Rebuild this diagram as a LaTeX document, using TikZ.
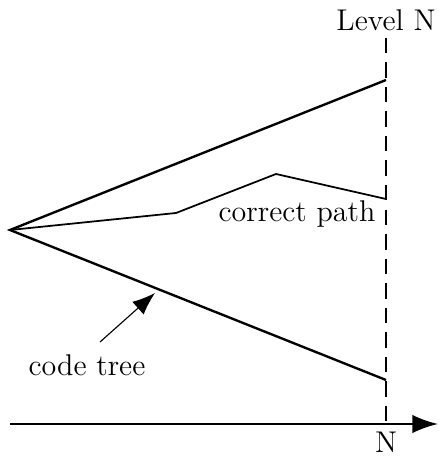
\documentclass[tikz,border=0pt]{standalone}
\usetikzlibrary{arrows.meta}
\tikzset{
  >={Latex[length=3.6mm,width=2.6mm]},
  branch/.style ={line width=0.95pt},
  route/.style  ={line width=0.7pt},
  level/.style  ={line width=0.8pt, dash pattern=on 6.2pt off 3.6pt},
  axis/.style   ={->, line width=0.95pt},
  pointer/.style={->, line width=0.45pt, >={Latex[length=3.2mm,width=2.4mm]}},
  lbl/.style    ={font=\large, inner sep=1pt},
}

\begin{document}
\begin{tikzpicture}[x=0.4pt, y=-0.4pt]
  \useasboundingbox (0,0) rectangle (438,457);
  % tree and level
  \coordinate (root) at (10,230);
  \coordinate (top)  at (386,80);
  \coordinate (bot)  at (386,380);
  \coordinate (p1)   at (176,213);
  \coordinate (p2)   at (276,174);
  \coordinate (pend) at (386,199);
  \coordinate (lvtop) at (386,38);
  \coordinate (lvbot) at (386,424);
  \coordinate (ax0) at (10,424);
  \coordinate (ax1) at (438,424);
  \draw[branch] (top) -- (root) -- (bot);
  \draw[route] (root) -- (p1) -- (p2) -- (pend);
  \draw[level] (lvtop) -- (lvbot);
  \draw[axis] (ax0) -- (ax1);
  % labels
  \node[lbl] (lvl)  at (386,20) {Level N};
  \node[lbl] (nlab) at (386,442) {N};
  \node[lbl] (cpath) at (297,214) {correct path};
  \node[lbl] (ctree) at (87,365) {code tree};
  \coordinate (tip) at (155,293);
  \draw[pointer] (100,342) -- (tip);
\end{tikzpicture}
\end{document}
